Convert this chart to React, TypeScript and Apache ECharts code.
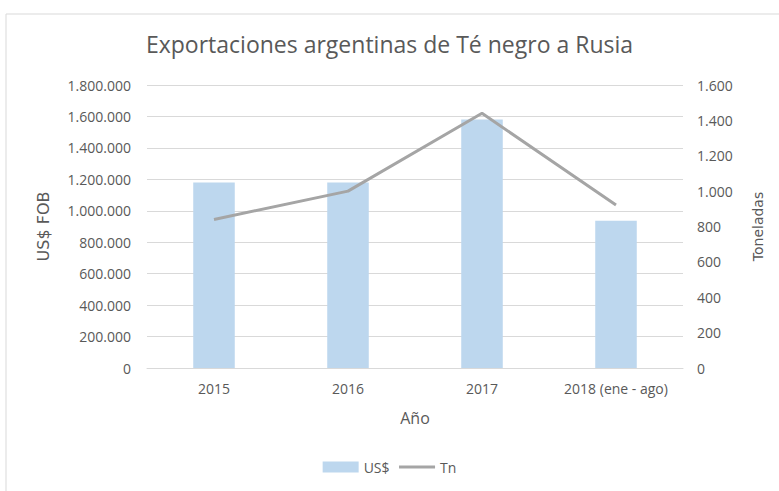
import React, { useEffect, useRef } from "react";
import * as echarts from "echarts";

const categories = ["2015", "2016", "2017", "2018 (ene - ago)"];
const usdValues = [1180000, 1180000, 1580000, 937000];
const tnValues = [840, 1000, 1440, 921];
const titleText = "Exportaciones argentinas de Té negro a Rusia";

const fmt = (v: number) => String(Math.round(v)).replace(/\B(?=(\d{3})+(?!\d))/g, ".");

export default function App() {
  const ref = useRef<HTMLDivElement>(null);
  useEffect(() => {
    document.body.style.margin = "0";
    const chart = echarts.init(ref.current!, undefined, { renderer: "svg" });
    const font = "'Open Sans', sans-serif";
    const txt = "#595959";
    chart.setOption({
      animation: false,
      textStyle: { fontFamily: font },
      title: {
        text: titleText,
        left: "center",
        top: 27,
        textStyle: { fontSize: 23, fontWeight: "normal", color: txt, fontFamily: font },
      },
      graphic: [
        {
          type: "rect",
          shape: { x: 6, y: 14, width: 790, height: 500 },
          style: { fill: "none", stroke: "#d9d9d9", lineWidth: 1 },
          silent: true,
        },
      ],
      legend: {
        bottom: 12,
        left: "center",
        itemGap: 8,
        itemWidth: 36,
        itemHeight: 11,
        textStyle: { color: txt, fontSize: 14, fontFamily: font },
        data: [
          { name: "US$", icon: "rect" },
          { name: "Tn", itemStyle: { opacity: 0 }, lineStyle: { width: 3, color: "#a5a5a5" } },
        ],
      },
      grid: { left: 147, right: 96, top: 85, bottom: 123 },
      xAxis: {
        type: "category",
        data: categories,
        name: "Año",
        nameLocation: "middle",
        nameGap: 42,
        nameTextStyle: { color: txt, fontSize: 16, fontFamily: font },
        axisLine: { lineStyle: { color: "#d9d9d9" } },
        axisTick: { show: false },
        axisLabel: { color: txt, fontSize: 14, margin: 13, fontFamily: font, interval: 0, hideOverlap: false },
      },
      yAxis: [
        {
          type: "value",
          min: 0,
          max: 1800000,
          interval: 200000,
          name: "US$ FOB",
          nameLocation: "middle",
          nameGap: 96,
          nameTextStyle: { color: txt, fontSize: 16, fontFamily: "'DejaVu Sans', sans-serif" },
          axisLabel: { color: txt, fontSize: 14, margin: 16, formatter: fmt, fontFamily: font },
          splitLine: { lineStyle: { color: "#d9d9d9" } },
          axisLine: { show: false },
          axisTick: { show: false },
        },
        {
          type: "value",
          min: 0,
          max: 1600,
          interval: 200,
          name: "Toneladas",
          nameLocation: "middle",
          nameGap: 68,
          nameRotate: 90,
          nameTextStyle: { color: txt, fontSize: 14, fontFamily: "'DejaVu Sans', sans-serif" },
          axisLabel: { color: txt, fontSize: 14, margin: 14, formatter: fmt, fontFamily: font },
          splitLine: { show: false },
          axisLine: { show: false },
          axisTick: { show: false },
        },
      ],
      series: [
        {
          name: "US$",
          type: "bar",
          data: usdValues,
          barWidth: "31%",
          itemStyle: { color: "#bdd7ee" },
          yAxisIndex: 0,
        },
        {
          name: "Tn",
          type: "line",
          data: tnValues,
          yAxisIndex: 1,
          symbol: "none",
          lineStyle: { color: "#a5a5a5", width: 3 },
          itemStyle: { color: "#a5a5a5" },
        },
      ],
    });
    return () => chart.dispose();
  }, []);
  return <div ref={ref} style={{ width: 779, height: 491 }} />;
}
